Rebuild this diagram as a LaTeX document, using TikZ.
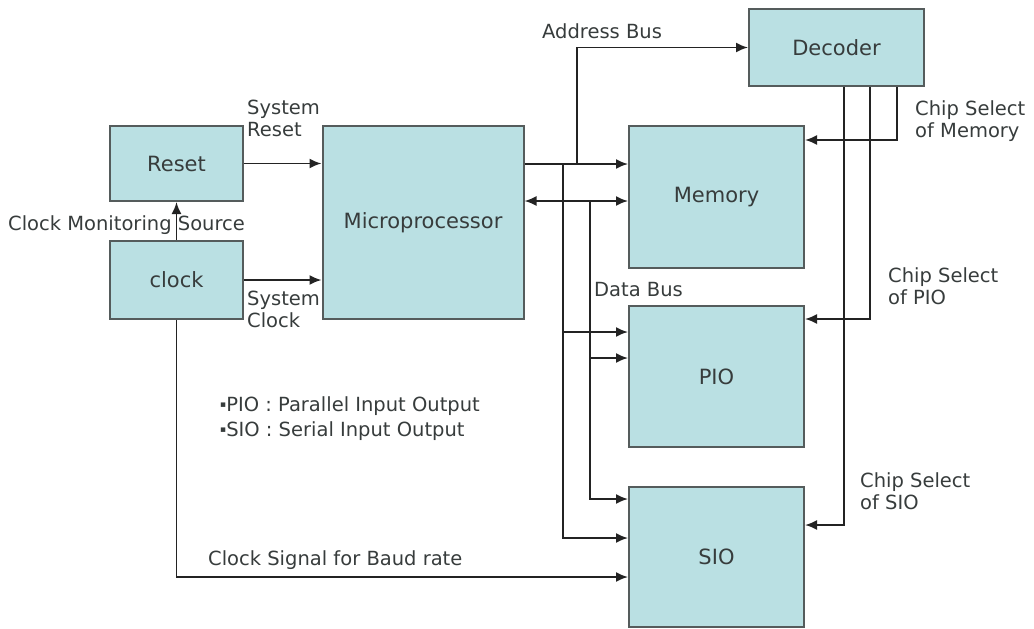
\documentclass[tikz,border=0pt]{standalone}
\usepackage{fontspec}
\setmainfont{DejaVu Sans}
\usetikzlibrary{arrows.meta}
\definecolor{boxfill}{RGB}{186,224,227}
\definecolor{boxline}{RGB}{85,92,92}
\definecolor{wire}{RGB}{35,35,35}
\definecolor{txt}{RGB}{55,60,60}
\newcommand{\smallbul}{\raisebox{3.5pt}{\fontsize{9}{9}\selectfont ▪}}
\begin{document}
\begin{tikzpicture}[x=1pt,y=-1pt,
  blk/.style={draw=boxline, line width=2pt, fill=boxfill, text=txt, inner sep=0pt,
    font=\fontsize{21}{25}\selectfont},
  lbl/.style={inner sep=0pt, text=txt, align=left, font=\fontsize{19.5}{22}\selectfont},
  arr/.style={draw=wire, line width=1.8pt, -{Latex[length=12pt,width=10pt]}},
  arrb/.style={draw=wire, line width=1.8pt, {Latex[length=12pt,width=10pt]}-{Latex[length=12pt,width=10pt]}}]
\useasboundingbox (0,0) rectangle (1034,629);

% blocks
\node[blk, minimum width=133, minimum height=75] (reset) at (176.5,163.5) {Reset};
\node[blk, minimum width=133, minimum height=78] (clk) at (176.5,280) {clock};
\node[blk, minimum width=201, minimum height=193] (micro) at (423,222.5) {Microprocessor};
\node[blk, minimum width=175, minimum height=77] (dec) at (836.5,47.5) {Decoder};
\node[blk, minimum width=175, minimum height=142] (mem) at (716.5,197) {Memory};
\node[blk, minimum width=175, minimum height=141] (pio) at (716.5,376.5) {PIO};
\node[blk, minimum width=175, minimum height=140] (sio) at (716.5,557) {SIO};

% helper coordinates
\coordinate (j1) at (563,164);
\coordinate (j2) at (590,201);
\coordinate (ab) at (577,164);
\coordinate (pa) at (563,332);
\coordinate (pb) at (590,358);
\coordinate (sb) at (590,499);
\coordinate (sa) at (563,538);
\coordinate (cs) at (176,577);
\coordinate (c1) at (897,140);
\coordinate (c2) at (870,319);
\coordinate (c3) at (844,525);

% connectors
\draw[arr] (reset.east) -- (micro.west |- reset.east);
\draw[arr] (clk.east) -- (micro.west |- clk.east);
\draw[arr] (clk.north) -- (reset.south);
\draw[arr] (clk.south) |- (sio.west |- cs);

\draw[arr] (micro.east |- j1) -- (mem.west |- j1);
\draw[arrb] (micro.east |- j2) -- (mem.west |- j2);
\draw[arr] (ab) |- (dec.west);
\draw[arr] (j1) |- (pio.west |- pa);
\draw[arr] (j1) |- (sio.west |- sa);
\draw[arr] (j2) |- (pio.west |- pb);
\draw[arr] (j2) |- (sio.west |- sb);

\draw[arr] (dec.south -| c1) |- (mem.east |- c1);
\draw[arr] (dec.south -| c2) |- (pio.east |- c2);
\draw[arr] (dec.south -| c3) |- (sio.east |- c3);

% labels
\node[lbl, anchor=west] (lab) at (542,31) {Address Bus};
\node[lbl, anchor=west] (ldb) at (594,290) {Data Bus};
\node[lbl, anchor=north west] (lsr) at (247,100) {System\\Reset};
\node[lbl, anchor=north west] (lsc) at (247,291) {System\\Clock};
\node[lbl, anchor=west] (lcm) at (8,225) {Clock Monitoring Source};
\node[lbl, anchor=north west] (lcsm) at (915,100) {Chip Select\\of Memory};
\node[lbl, anchor=north west] (lcsp) at (888,267) {Chip Select\\of PIO};
\node[lbl, anchor=north west] (lcss) at (860,472) {Chip Select\\of SIO};
\node[lbl, anchor=west] (n1) at (220,406) {\smallbul PIO : Parallel Input Output};
\node[lbl, anchor=west] (n2) at (220,431) {\smallbul SIO : Serial Input Output};
\node[lbl, anchor=west] (lbr) at (208,560) {Clock Signal for Baud rate};
\end{tikzpicture}
\end{document}
